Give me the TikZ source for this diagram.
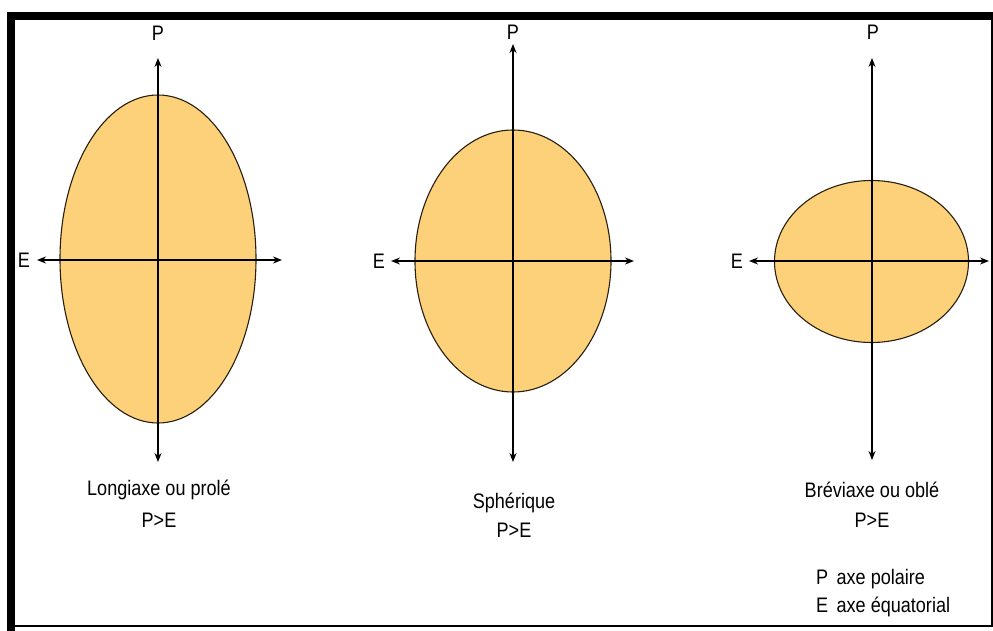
\documentclass[tikz,border=0pt]{standalone}
\usepackage{fontspec}
\setmainfont{Liberation Sans}[FakeStretch=0.86]
\usetikzlibrary{arrows.meta}
\definecolor{eggfill}{RGB}{252,209,122}
\definecolor{eggline}{RGB}{40,30,15}
\tikzset{
  axis/.style={line width=1.5pt,{Stealth[length=9pt,width=7pt]}-{Stealth[length=9pt,width=7pt]}},
  egg/.style={fill=eggfill,draw=eggline,line width=1.1pt},
  lbl/.style={font=\fontsize{21}{24}\selectfont,inner sep=0pt},
}
\begin{document}
\begin{tikzpicture}[x=1pt,y=-1pt]
\useasboundingbox (0,0) rectangle (993,631);
% frame
\draw[line width=8pt] (11,631) -- (11,16) -- (993,16);
\draw[line width=1.8pt] (11,626) -- (992,626) -- (992,16);
% ellipses
\fill[egg] (158,259) ellipse [x radius=98, y radius=164];
\fill[egg] (513,261) ellipse [x radius=98, y radius=131];
\fill[egg] (871.5,261.5) ellipse [x radius=97, y radius=81];
% axis end coordinates
\coordinate (t1) at (158,58);  \coordinate (b1) at (158,462);
\coordinate (l1) at (37,260);  \coordinate (r1) at (282,260);
\coordinate (t2) at (513,44);  \coordinate (b2) at (513,462);
\coordinate (l2) at (391,261); \coordinate (r2) at (634,261);
\coordinate (t3) at (872,58);  \coordinate (b3) at (872,460);
\coordinate (l3) at (749,261); \coordinate (r3) at (989,261);
\draw[axis] (b1) -- (t1);
\draw[axis] (l1) -- (r1);
\draw[axis] (b2) -- (t2);
\draw[axis] (l2) -- (r2);
\draw[axis] (b3) -- (t3);
\draw[axis] (l3) -- (r3);
% axis labels
\node[lbl] (p1) at (158,33) {P};
\node[lbl] (e1) at (24,260) {E};
\node[lbl] (p2) at (513,32) {P};
\node[lbl] (e2) at (379,261) {E};
\node[lbl] (p3) at (873,32) {P};
\node[lbl] (e3) at (737,261) {E};
% captions
\node[lbl] (c1) at (159,490) {Longiaxe ou prolé};
\node[lbl] (d1) at (159,520) {P>E};
\node[lbl] (c2) at (514,503) {Sphérique};
\node[lbl] (d2) at (514,530) {P>E};
\node[lbl] (c3) at (872,490) {Bréviaxe ou oblé};
\node[lbl] (d3) at (872,520) {P>E};
% legend
\node[lbl,anchor=west] (lp) at (816,579) {P\hspace{0.4em}axe polaire};
\node[lbl,anchor=west] (le) at (816,607) {E\hspace{0.4em}axe équatorial};
\end{tikzpicture}
\end{document}
